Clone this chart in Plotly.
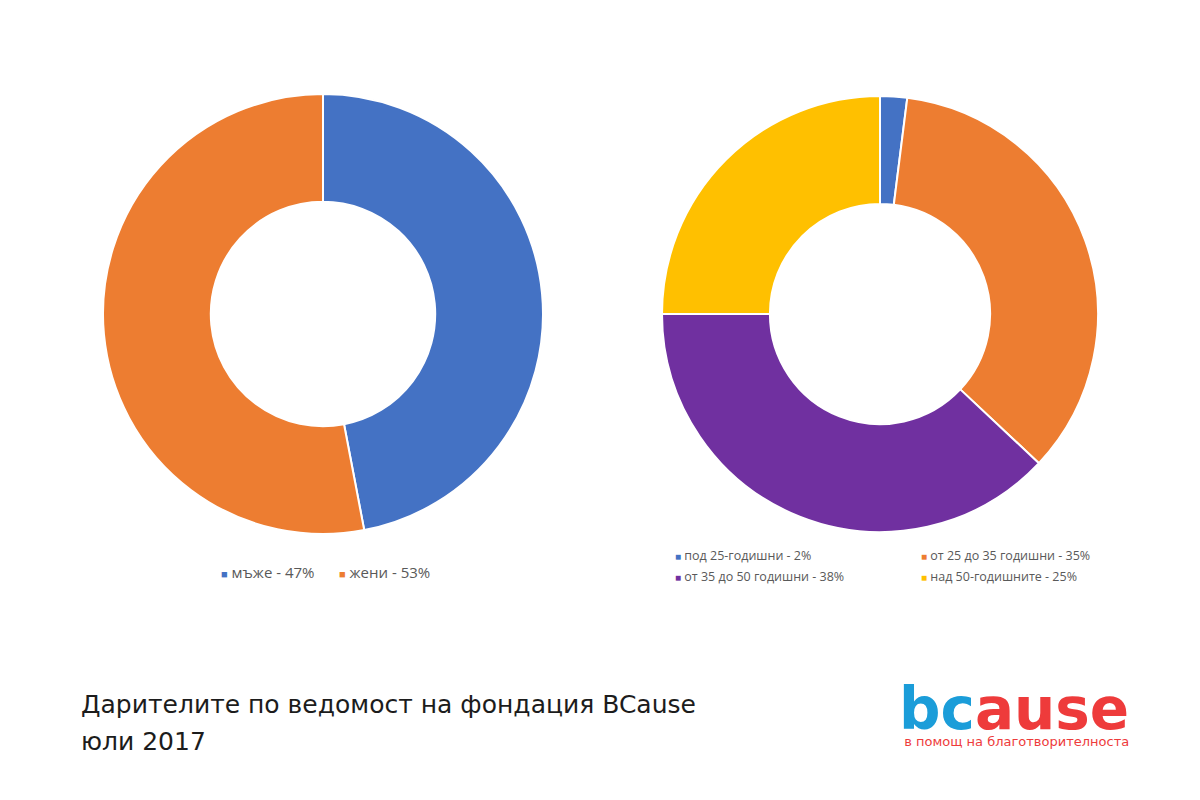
import plotly.graph_objects as go

# ---- data ----
gender_labels = ["мъже", "жени"]
gender_values = [47, 53]
gender_colors = ["#4472C4", "#ED7D31"]

age_labels = ["под 25-годишни", "от 25 до 35 годишни", "от 35 до 50 годишни", "над 50-годишните"]
age_values = [2, 35, 38, 25]
age_colors = ["#4472C4", "#ED7D31", "#7030A0", "#FFC000"]

title_line1 = "Дарителите по ведомост на фондация BCause"
title_line2 = "юли 2017"
logo_blue = "bc"
logo_red = "ause"
logo_tagline = "в помощ на благотворителноста"

W, H = 1200, 800
OFF = 8  # page body margin of the browser


def px(x):
    return (x - OFF) / W


def py(y):
    return 1 - (y - OFF) / H


fig = go.Figure()

fig.add_trace(go.Pie(
    labels=gender_labels, values=gender_values,
    marker=dict(colors=gender_colors, line=dict(color="white", width=2)),
    hole=0.51, sort=False, direction="clockwise", rotation=0,
    textinfo="none", hoverinfo="label+percent", showlegend=False,
    domain=dict(x=[px(323 - 220), px(323 + 220)], y=[py(534), py(94)]),
))

fig.add_trace(go.Pie(
    labels=age_labels, values=age_values,
    marker=dict(colors=age_colors, line=dict(color="white", width=2)),
    hole=0.505, sort=False, direction="clockwise", rotation=0,
    textinfo="none", hoverinfo="label+percent", showlegend=False,
    domain=dict(x=[px(880 - 218), px(880 + 218)], y=[py(532), py(96)]),
))

annotations = []


def legend_item(x, y, label, value, color, size, sq):
    return dict(
        x=px(x), y=py(y), xref="paper", yref="paper",
        xanchor="left", yanchor="middle", showarrow=False,
        text=f"<span style='color:{color}; font-size:{sq}px'>■</span> {label} - {value}%",
        font=dict(family="Open Sans, Noto Sans, sans-serif", size=size, color="#595959"),
    )


# left legend (one row)
left_pos = [(219, 572), (337, 572)]
for (x, y), lab, val, col in zip(left_pos, gender_labels, gender_values, gender_colors):
    annotations.append(legend_item(x, y, lab, val, col, 15, 11))

# right legend (2 x 2)
right_pos = [(673, 555), (919, 555), (673, 576), (919, 576)]
for (x, y), lab, val, col in zip(right_pos, age_labels, age_values, age_colors):
    annotations.append(legend_item(x, y, lab, val, col, 12.5, 10))

# title
title_font = dict(family="DejaVu Sans", size=25, color="#1c1c1c")
annotations.append(dict(
    x=px(79), y=py(704), xref="paper", yref="paper", xanchor="left", yanchor="middle",
    showarrow=False, text=title_line1, font=title_font,
))
annotations.append(dict(
    x=px(79), y=py(741), xref="paper", yref="paper", xanchor="left", yanchor="middle",
    showarrow=False, text=title_line2, font=title_font,
))

# logo (one text block: word + tagline)
annotations.append(dict(
    x=px(1131), y=py(751), xref="paper", yref="paper", xanchor="right", yanchor="bottom",
    showarrow=False, align="right",
    text=(f"<span style='font-size:58px'><b><span style='color:#1B9DD9'>{logo_blue}</span>"
          f"<span style='color:#EE3B3B'>{logo_red}</span></b></span><br>{logo_tagline}"),
    font=dict(family="DejaVu Sans", size=13, color="#EE3B3B"),
))

fig.update_layout(
    width=W, height=H,
    margin=dict(l=0, r=0, t=0, b=0),
    paper_bgcolor="white", plot_bgcolor="white",
    annotations=annotations,
    showlegend=False,
)

fig.write_html("out.html")
